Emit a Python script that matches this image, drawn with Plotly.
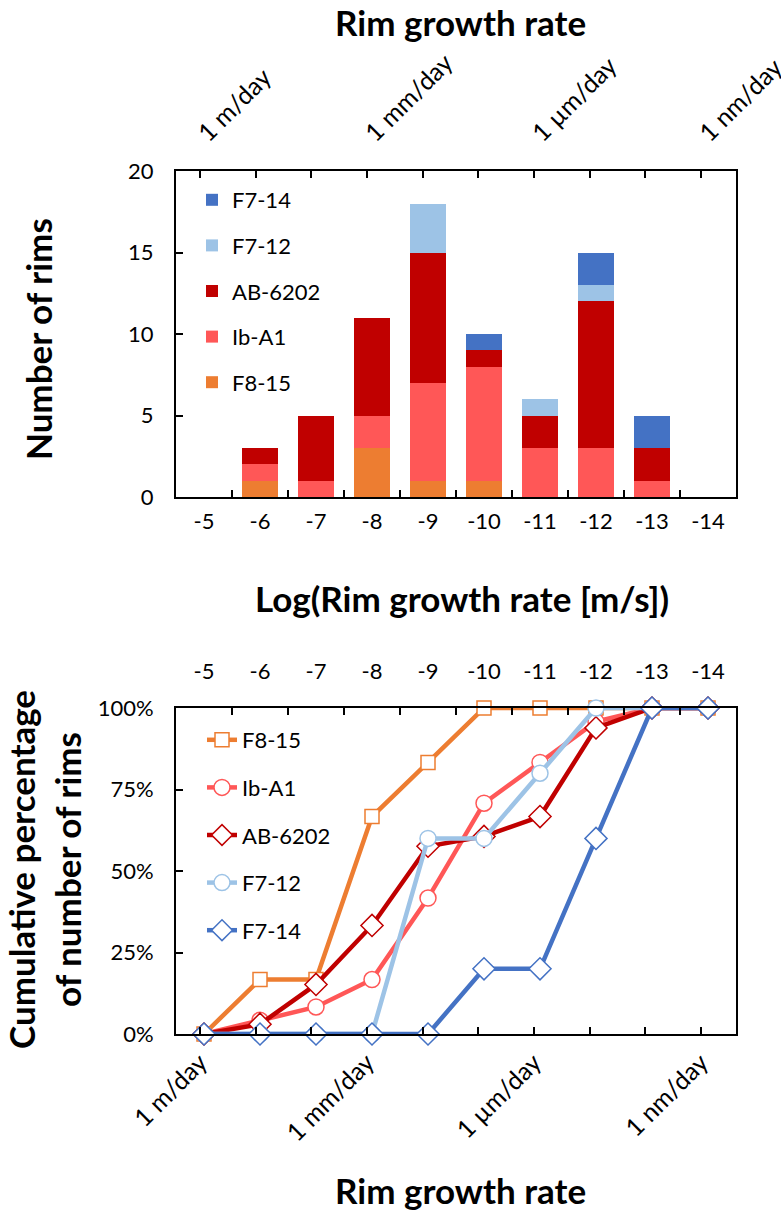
import plotly.graph_objects as go

W, H = 781, 1217

categories = ["-5", "-6", "-7", "-8", "-9", "-10", "-11", "-12", "-13", "-14"]

# rim counts per bin (stack order bottom -> top)
f8_15 = [0, 1, 0, 3, 1, 1, 0, 0, 0, 0]
ib_a1 = [0, 1, 1, 2, 6, 7, 3, 3, 1, 0]
ab_6202 = [0, 1, 4, 6, 8, 1, 2, 9, 2, 0]
f7_12 = [0, 0, 0, 0, 3, 0, 1, 1, 0, 0]
f7_14 = [0, 0, 0, 0, 0, 1, 0, 2, 2, 0]

# cumulative percentages
cum_f8_15 = [0, 16.7, 16.7, 66.7, 83.3, 100, 100, 100, 100, 100]
cum_ib_a1 = [0, 4.2, 8.3, 16.7, 41.7, 70.8, 83.3, 95.8, 100, 100]
cum_ab_6202 = [0, 3.0, 15.2, 33.3, 57.6, 60.6, 66.7, 93.9, 100, 100]
cum_f7_12 = [0, 0, 0, 0, 60, 60, 80, 100, 100, 100]
cum_f7_14 = [0, 0, 0, 0, 0, 20, 20, 60, 100, 100]

# secondary "rate" axis: log10 of 1 unit/day in m/s
rate_tickvals = [-4.936, -5.936, -6.936, -7.936, -8.936, -9.936, -10.936, -11.936, -12.936, -13.936]
rate_ticktext = ["1 m/day", "", "", "1 mm/day", "", "", "1 µm/day", "", "", "1 nm/day"]

C_F8 = "#ED7D31"
C_IB = "#FF5757"
C_AB = "#C00000"
C_F712 = "#9DC3E6"
C_F714 = "#4472C4"

FONT = "Lato, 'DejaVu Sans', sans-serif"

def px_x(p):
    return p / W

def px_y(p):
    return 1 - p / H

XDOM = [px_x(176), px_x(736)]
Y1DOM = [px_y(497), px_y(171)]
Y2DOM = [px_y(1034), px_y(708)]

fig = go.Figure()

bars = [("F8-15", f8_15, C_F8, 5), ("Ib-A1", ib_a1, C_IB, 4), ("AB-6202", ab_6202, C_AB, 3),
        ("F7-12", f7_12, C_F712, 2), ("F7-14", f7_14, C_F714, 1)]
for name, vals, col, rank in bars:
    fig.add_trace(go.Bar(
        x=categories, y=vals, name=name, marker=dict(color=col, line=dict(width=0)),
        xaxis="x", yaxis="y", legend="legend", legendgroup="b" + name, legendrank=rank,
    ))

lines = [("F8-15", cum_f8_15, C_F8, "square", 14),
         ("Ib-A1", cum_ib_a1, C_IB, "circle", 16),
         ("AB-6202", cum_ab_6202, C_AB, "diamond", 17),
         ("F7-12", cum_f7_12, C_F712, "circle", 16),
         ("F7-14", cum_f7_14, C_F714, "diamond", 17)]
for name, vals, col, sym, sz in lines:
    fig.add_trace(go.Scatter(
        x=categories, y=vals, name=name, mode="lines+markers",
        line=dict(color=col, width=4.5),
        marker=dict(symbol=sym, size=sz, color="white", line=dict(color=col, width=1.5)),
        xaxis="x3", yaxis="y2", legend="legend2", legendgroup="l" + name,
        cliponaxis=False,
    ))

# invisible carriers so the secondary rate axes get drawn
for xa, ya in (("x2", "y"), ("x4", "y2")):
    fig.add_trace(go.Scatter(
        x=rate_tickvals, y=[None] * len(rate_tickvals), mode="markers",
        xaxis=xa, yaxis=ya, showlegend=False, hoverinfo="skip",
    ))

axis_common = dict(
    showgrid=False, zeroline=False, showline=True, linecolor="black", linewidth=2,
    ticks="inside", ticklen=7, tickwidth=1.5, tickcolor="black", automargin=False,
    tickfont=dict(size=22, color="black"), ticklabeloverflow="allow",
)
rate_font = dict(size=25, color="black")

fig.update_layout(
    width=W, height=H,
    margin=dict(l=0, r=0, t=0, b=0),
    paper_bgcolor="white", plot_bgcolor="white",
    font=dict(family=FONT, color="black"),
    barmode="stack", bargap=0.345,
    xaxis=dict(domain=XDOM, anchor="y", side="bottom", type="category",
               tickson="boundaries", mirror=True, ticklabelstandoff=4, **axis_common),
    xaxis2=dict(overlaying="x", anchor="y", side="top", range=[-4.505, -14.564],
                tickmode="array", tickvals=rate_tickvals, ticktext=rate_ticktext,
                tickangle=-45, ticklabelstandoff=12,
                **{**axis_common, "tickfont": rate_font}),
    yaxis=dict(domain=Y1DOM, anchor="x", range=[0, 20], dtick=5, mirror=True,
               ticklabelstandoff=16, **axis_common),
    xaxis3=dict(domain=XDOM, anchor="y2", side="top", type="category",
                tickson="boundaries", range=[-0.5, 9.5], mirror=True,
                ticklabelstandoff=18, **axis_common),
    xaxis4=dict(overlaying="x3", anchor="y2", side="bottom", range=[-4.505, -14.564],
                tickmode="array", tickvals=rate_tickvals, ticktext=rate_ticktext,
                tickangle=-45, ticklabelstandoff=2,
                **{**axis_common, "tickfont": rate_font}),
    yaxis2=dict(domain=Y2DOM, anchor="x3", range=[0, 100], dtick=25, ticksuffix="%",
                mirror=True, ticklabelstandoff=16, **axis_common),
    legend=dict(x=px_x(192), y=px_y(179), xanchor="left", yanchor="top",
                traceorder="grouped", tracegroupgap=14,
                font=dict(size=22, color="black"), bgcolor="rgba(0,0,0,0)"),
    legend2=dict(x=px_x(202), y=px_y(719), xanchor="left", yanchor="top",
                 traceorder="grouped", tracegroupgap=16,
                 font=dict(size=22, color="black"), bgcolor="rgba(0,0,0,0)"),
    showlegend=True,
)

title_font = dict(family=FONT, size=35, color="black")
titles = [
    ("<b>Rim growth rate</b>", 460, 22, 0),
    ("<b>Number of rims</b>", 38, 339, -90),
    ("<b>Log(Rim growth rate [m/s])</b>", 462, 598, 0),
    ("<b>Cumulative percentage<br>of number of rims</b>", 44, 870, -90),
    ("<b>Rim growth rate</b>", 460, 1190, 0),
]
for txt, tx, ty, ang in titles:
    fig.add_annotation(text=txt, x=px_x(tx), y=px_y(ty), xref="paper", yref="paper",
                       xanchor="center", yanchor="middle", showarrow=False,
                       textangle=ang, font=title_font)

fig.write_html("out.html", config={"displayModeBar": False},
               post_script="document.body.style.margin='0px';")
